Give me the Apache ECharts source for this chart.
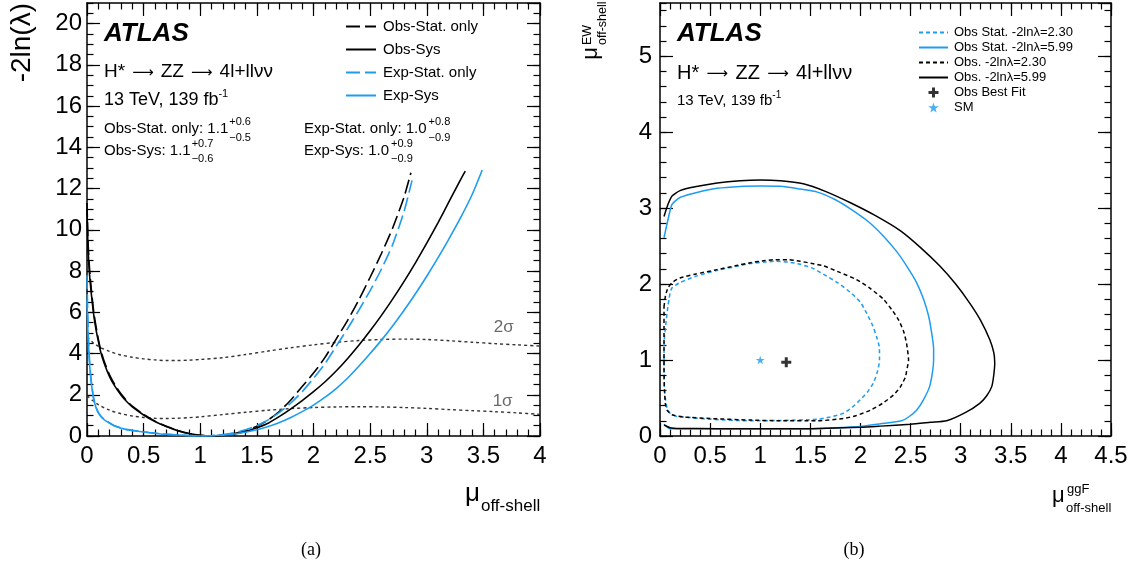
<!DOCTYPE html>
<html><head><meta charset="utf-8">
<script src="https://cdn.jsdelivr.net/npm/echarts/dist/echarts.min.js"></script>
<style>html,body{margin:0;padding:0;background:#fff}#c{width:1137px;height:568px}</style>
</head><body><div id="c"></div>
<script>
// ---------------- data: panel (a) ----------------
const obsStatX = [0,0.005,0.01,0.02,0.03,0.04,0.06,0.08,0.1,0.12,0.15,0.2,0.25,0.3,0.35,0.4,0.5,0.6,0.7,0.8,0.9,1.0,1.1,1.2,1.3,1.4,1.5,1.6,1.7,1.8,1.9,2.0,2.1,2.2,2.3,2.4,2.5,2.6,2.7,2.8,2.86];
const obsStatY = [11.3,10.2,9.3,8.3,7.6,7.0,6.0,5.3,4.7,4.2,3.65,2.95,2.45,2.05,1.72,1.45,1.05,0.72,0.47,0.27,0.12,0.03,0,0.04,0.12,0.27,0.48,0.78,1.2,1.75,2.4,3.05,3.8,4.7,5.6,6.6,7.7,8.85,10.1,11.6,12.77];
const obsSysX = [0,0.005,0.01,0.02,0.03,0.04,0.06,0.08,0.1,0.12,0.15,0.2,0.25,0.3,0.35,0.4,0.5,0.6,0.7,0.8,0.9,1.0,1.1,1.2,1.3,1.4,1.5,1.6,1.7,1.8,1.9,2.0,2.1,2.2,2.3,2.4,2.5,2.6,2.7,2.8,2.9,3.0,3.1,3.2,3.3,3.34];
const obsSysY = [11.0,9.9,9.0,8.0,7.35,6.8,5.85,5.15,4.6,4.1,3.55,2.87,2.38,1.99,1.67,1.41,1.02,0.7,0.46,0.26,0.12,0.03,0,0.03,0.1,0.22,0.4,0.62,0.95,1.32,1.72,2.15,2.62,3.15,3.75,4.4,5.1,5.85,6.65,7.5,8.4,9.35,10.35,11.4,12.45,12.85];
const expStatX = [0,0.005,0.01,0.02,0.03,0.04,0.06,0.08,0.1,0.13,0.17,0.25,0.35,0.45,0.55,0.65,0.8,0.9,1.0,1.1,1.2,1.3,1.4,1.5,1.6,1.7,1.8,1.9,2.0,2.1,2.2,2.3,2.4,2.5,2.6,2.7,2.8,2.87];
const expStatY = [7.8,6.3,5.2,3.9,3.1,2.55,1.8,1.4,1.15,0.92,0.74,0.48,0.32,0.24,0.17,0.11,0.05,0.02,0,0.02,0.07,0.16,0.3,0.5,0.78,1.15,1.6,2.15,2.8,3.5,4.35,5.2,6.1,7.05,8.1,9.3,10.9,12.4];
const expSysX = [0,0.005,0.01,0.02,0.03,0.04,0.06,0.08,0.1,0.13,0.17,0.25,0.35,0.45,0.55,0.65,0.8,0.9,1.0,1.1,1.2,1.3,1.4,1.5,1.6,1.7,1.8,1.9,2.0,2.1,2.2,2.3,2.4,2.5,2.6,2.7,2.8,2.9,3.0,3.1,3.2,3.3,3.4,3.49];
const expSysY = [6.6,5.6,4.8,3.7,3.0,2.48,1.76,1.37,1.12,0.9,0.72,0.47,0.31,0.23,0.16,0.1,0.05,0.02,0,0.01,0.04,0.1,0.18,0.3,0.46,0.66,0.9,1.18,1.5,1.87,2.3,2.8,3.38,4.0,4.65,5.35,6.1,6.9,7.75,8.65,9.6,10.6,11.7,12.9];
const sigmaX = [0,0.05,0.1,0.2,0.3,0.4,0.5,0.6,0.7,0.8,0.9,1.0,1.2,1.4,1.6,1.8,2.0,2.2,2.4,2.6,2.8,3.0,3.2,3.4,3.6,3.8,4.0];
const twoSigmaY = [4.8,4.55,4.35,4.1,3.93,3.82,3.74,3.69,3.66,3.66,3.68,3.71,3.8,3.95,4.12,4.28,4.42,4.54,4.63,4.68,4.7,4.68,4.62,4.55,4.48,4.42,4.36];
const oneSigmaY = [1.95,1.72,1.52,1.25,1.08,0.97,0.9,0.86,0.85,0.86,0.89,0.93,1.04,1.15,1.25,1.33,1.38,1.41,1.42,1.41,1.38,1.34,1.28,1.23,1.18,1.12,1.05];
const sigmaLabels = [['2σ', 3.68, 5.28], ['1σ', 3.67, 1.70]];
const legendA = ['Obs-Stat. only', 'Obs-Sys', 'Exp-Stat. only', 'Exp-Sys'];

// ---------------- data: panel (b) ----------------
const obsStat230 = [[0.04,1.0],[0.04,1.18],[0.045,1.3],[0.055,1.44],[0.065,1.55],[0.08,1.72],[0.09,1.8],[0.1,1.88],[0.12,1.95],[0.2,2.02],[0.35,2.1],[0.57,2.18],[0.75,2.23],[0.9,2.27],[1.05,2.29],[1.15,2.30],[1.28,2.29],[1.4,2.26],[1.52,2.21],[1.63,2.13],[1.77,2.02],[1.9,1.89],[2.0,1.76],[2.06,1.62],[2.12,1.46],[2.16,1.31],[2.19,1.15],[2.19,1.0],[2.17,0.85],[2.13,0.70],[2.07,0.58],[2.0,0.48],[1.92,0.38],[1.83,0.30],[1.7,0.25],[1.57,0.22],[1.2,0.205],[0.9,0.20],[0.5,0.22],[0.24,0.25],[0.17,0.255],[0.1,0.30],[0.07,0.37],[0.055,0.48],[0.045,0.6],[0.04,0.74],[0.04,1.0]];
const obsStat599 = [[0.04,2.61],[0.08,2.85],[0.12,3.05],[0.2,3.14],[0.35,3.2],[0.57,3.26],[0.8,3.285],[1.0,3.29],[1.23,3.285],[1.4,3.25],[1.57,3.21],[1.75,3.11],[1.9,2.99],[2.08,2.82],[2.23,2.63],[2.36,2.43],[2.46,2.24],[2.56,2.02],[2.63,1.8],[2.68,1.58],[2.71,1.36],[2.73,1.15],[2.73,1.0],[2.72,0.85],[2.69,0.65],[2.63,0.48],[2.56,0.34],[2.48,0.25],[2.41,0.20],[2.2,0.16],[2.0,0.125],[1.6,0.1],[1.2,0.095],[0.6,0.095],[0.2,0.095],[0.1,0.097],[0.07,0.12],[0.04,0.155]];
const obs230 = [[0.04,1.7],[0.055,1.85],[0.08,1.95],[0.12,2.02],[0.2,2.08],[0.35,2.13],[0.57,2.19],[0.75,2.24],[0.9,2.28],[1.05,2.31],[1.15,2.32],[1.28,2.32],[1.4,2.30],[1.52,2.27],[1.63,2.24],[1.8,2.15],[1.96,2.06],[2.1,1.94],[2.23,1.80],[2.32,1.65],[2.38,1.53],[2.43,1.38],[2.46,1.22],[2.48,1.0],[2.46,0.85],[2.45,0.78],[2.4,0.65],[2.33,0.54],[2.22,0.43],[2.10,0.34],[1.96,0.27],[1.83,0.23],[1.57,0.20],[1.2,0.20],[0.9,0.21],[0.5,0.23],[0.24,0.25],[0.12,0.28],[0.07,0.34],[0.055,0.41],[0.045,0.6],[0.04,0.9],[0.04,1.3],[0.04,1.7]];
const obs599 = [[0.04,2.89],[0.08,3.05],[0.12,3.16],[0.2,3.23],[0.35,3.28],[0.57,3.33],[0.8,3.36],[1.0,3.37],[1.2,3.36],[1.43,3.32],[1.65,3.22],[1.9,3.07],[2.15,2.9],[2.4,2.70],[2.6,2.48],[2.79,2.24],[2.95,2.0],[3.09,1.75],[3.2,1.52],[3.29,1.27],[3.33,1.1],[3.34,0.96],[3.33,0.8],[3.31,0.65],[3.26,0.53],[3.19,0.43],[3.05,0.31],[2.86,0.20],[2.7,0.18],[2.5,0.155],[2.2,0.13],[2.0,0.115],[1.5,0.097],[1.0,0.095],[0.57,0.097],[0.2,0.1],[0.1,0.11],[0.04,0.145]];
const bestFit = [[1.26, 0.97]];
const smPoint = [[1.0, 1.0]];
const legendB = ['Obs Stat. -2lnλ=2.30', 'Obs Stat. -2lnλ=5.99', 'Obs. -2lnλ=2.30', 'Obs. -2lnλ=5.99', 'Obs Best Fit', 'SM'];

// ---------------- style ----------------
const FONT = 'Liberation Sans';
const BLUE = '#1e9cf0';
const zip = (xs, ys) => xs.map((x, i) => [x, ys[i]]);

function axisSet(kind, gi, min, max, majorInt, minorInt, labelMargin) {
  const isX = kind === 'x';
  const sides = isX ? ['bottom', 'top'] : ['left', 'right'];
  const out = [];
  sides.forEach((pos, si) => {
    out.push({
      type: 'value', gridIndex: gi, position: pos, min, max, interval: majorInt,
      axisLine: { show: true, onZero: false, lineStyle: { color: '#000', width: 1.5 } },
      axisTick: { show: true, inside: true, length: 13, lineStyle: { color: '#000', width: 1.2 } },
      axisLabel: { show: si === 0, showMaxLabel: isX, color: '#000', fontSize: 24, fontFamily: FONT, margin: labelMargin },
      splitLine: { show: false }
    });
    out.push({
      type: 'value', gridIndex: gi, position: pos, min, max, interval: minorInt,
      axisLine: { show: false, onZero: false },
      axisTick: { show: true, inside: true, length: 6.5, lineStyle: { color: '#000', width: 1.2 } },
      axisLabel: { show: false },
      splitLine: { show: false }
    });
  });
  return out;
}

const xAxes = [].concat(
  axisSet('x', 0, 0, 4, 0.5, 0.1, 8),
  axisSet('x', 1, 0, 4.5, 0.5, 0.1, 8)
);
const yAxes = [].concat(
  axisSet('y', 0, 0, 21, 2, 0.5, 5),
  axisSet('y', 1, 0, 5.7, 1, 0.2, 8)
);

const HIDDEN_ITEM = { color: 'rgba(0,0,0,0)', borderColor: 'rgba(0,0,0,0)', borderWidth: 0, opacity: 0 };
function lineA(name, xs, ys, color, type) {
  return { name, type: 'line', xAxisIndex: 0, yAxisIndex: 0, data: zip(xs, ys), symbol: 'none',
    smooth: 0.25, lineStyle: { color, width: 1.6, type }, itemStyle: HIDDEN_ITEM, z: 3 };
}
function lineB(name, pts, color, type) {
  return { name, type: 'line', xAxisIndex: 4, yAxisIndex: 4, data: pts, symbol: 'none',
    smooth: 0.2, lineStyle: { color, width: 1.5, type }, itemStyle: HIDDEN_ITEM, z: 3 };
}

const PLUS = 'path://M3.5,0h3v3.5h3.5v3h-3.5v3.5h-3v-3.5h-3.5v-3h3.5z';
const STAR = 'path://M50,0L61,35L98,35L68,57L79,91L50,70L21,91L32,57L2,35L39,35Z';

const series = [
  { type: 'line', xAxisIndex: 0, yAxisIndex: 0, data: zip(sigmaX, twoSigmaY), symbol: 'none', smooth: 0.3,
    lineStyle: { color: '#333', width: 1.4, type: [3, 3] }, silent: true, z: 2 },
  { type: 'line', xAxisIndex: 0, yAxisIndex: 0, data: zip(sigmaX, oneSigmaY), symbol: 'none', smooth: 0.3,
    lineStyle: { color: '#333', width: 1.4, type: [3, 3] }, silent: true, z: 2 },
  { type: 'scatter', xAxisIndex: 0, yAxisIndex: 0, symbolSize: 1, itemStyle: { color: 'rgba(0,0,0,0)' },
    data: sigmaLabels.map(d => ({ value: [d[1], d[2]], label: { formatter: d[0] } })),
    label: { show: true, position: 'inside', fontSize: 17, fontFamily: FONT, color: '#444' }, silent: true },
  lineA(legendA[0], obsStatX, obsStatY, '#000', [14, 5]),
  lineA(legendA[1], obsSysX, obsSysY, '#000', 'solid'),
  lineA(legendA[2], expStatX, expStatY, BLUE, [14, 5]),
  lineA(legendA[3], expSysX, expSysY, BLUE, 'solid'),
  lineB(legendB[0], obsStat230, BLUE, [4, 3]),
  lineB(legendB[1], obsStat599, BLUE, 'solid'),
  lineB(legendB[2], obs230, '#000', [4, 3]),
  lineB(legendB[3], obs599, '#000', 'solid'),
  { name: legendB[4], type: 'scatter', xAxisIndex: 4, yAxisIndex: 4, data: bestFit, symbol: PLUS, symbolSize: 10,
    symbolKeepAspect: true, itemStyle: { color: '#000' }, z: 5 },
  { name: legendB[5], type: 'scatter', xAxisIndex: 4, yAxisIndex: 4, data: smPoint, symbol: STAR, symbolSize: 9,
    symbolKeepAspect: true, itemStyle: { color: BLUE }, z: 5 }
];

// ---------------- text helpers ----------------
const mctx = document.createElement('canvas').getContext('2d');
function fontStr(size, weight, style, fam) { return (style || 'normal') + ' ' + (weight || 'normal') + ' ' + size + 'px "' + (fam || FONT) + '"'; }
function tw(text, size, weight, style, fam) { mctx.font = fontStr(size, weight, style, fam); return mctx.measureText(text).width; }
function T(x, y, text, size, o) {
  o = o || {};
  const font = fontStr(size, o.weight, o.style, o.family);
  return { type: 'text', x, y, rotation: o.rot || 0, silent: true,
    style: { x: 0, y: 0, text, font, fill: o.color || '#000', textFill: o.color || '#000',
      align: o.align || 'left', textAlign: o.align || 'left', verticalAlign: 'middle', textVerticalAlign: 'middle' } };
}
function supsub(x, y, main, sup, sub, size, ssize, dyUp, dyDn, gap) {
  const w = tw(main, size) + (gap || 1);
  return [T(x, y, main, size), T(x + w, y - dyUp, sup, ssize), T(x + w, y + dyDn, sub, ssize)];
}
// process line "H* → ZZ → 4l+llνν" built from pieces, arrows drawn as long-arrow glyphs
function proc(x, y, size, arrowW) {
  const out = [];
  let cx = x;
  const parts = ['H*', '→', 'ZZ', '→', '4l+llνν'];
  const gap = size * 0.28;
  parts.forEach(p => {
    if (p === '→') {
      const asz = 15 * arrowW / 25;
      const w = Math.max(tw('⟶', asz, null, null, 'DejaVu Sans'), arrowW * 0.8);
      cx += gap;
      out.push(T(cx + arrowW / 2, y + 1.5, '⟶', asz, { family: 'DejaVu Sans', align: 'center' }));
      cx += arrowW + gap;
    } else {
      out.push(T(cx, y, p, size));
      cx += tw(p, size);
    }
  });
  return out;
}

const g = [];
// panel (a)
g.push(T(104, 34, 'ATLAS', 26, { weight: 'bold', style: 'italic' }));
g.push(...proc(104, 72, 19, 25));
g.push(T(104, 100, '13 TeV, 139 fb', 18));
g.push(T(104 + tw('13 TeV, 139 fb', 18), 93.5, '-1', 11));
g.push(...supsub(104, 128.5, 'Obs-Stat. only: 1.1', '+0.6', '−0.5', 15, 11, 6.5, 9, 1));
g.push(...supsub(104, 150.5, 'Obs-Sys: 1.1', '+0.7', '−0.6', 15, 11, 6.5, 8.5, 1));
g.push(...supsub(304, 128.5, 'Exp-Stat. only: 1.0', '+0.8', '−0.9', 15, 11, 7, 9, 2));
g.push(...supsub(304, 150.5, 'Exp-Sys: 1.0', '+0.9', '−0.9', 15, 11, 6.5, 8.5, 2));
// axis titles (a)
g.push(T(22, 3, '-2ln(λ)', 28, { rot: Math.PI / 2, align: 'right' }));
g.push(T(465, 494, 'μ', 26));
g.push(T(481, 506, 'off-shell', 17));
// panel (b)
g.push(T(677, 34, 'ATLAS', 26, { weight: 'bold', style: 'italic' }));
g.push(...proc(677, 73, 20, 25));
g.push(T(677, 100.5, '13 TeV, 139 fb', 15));
g.push(T(677 + tw('13 TeV, 139 fb', 15), 95, '-1', 10));
// axis titles (b)
g.push(T(1052, 496, 'μ', 22));
g.push(T(1067, 489, 'ggF', 13));
g.push(T(1066, 508, 'off-shell', 13));
g.push(T(591, 47, 'μ', 22, { rot: Math.PI / 2, align: 'right' }));
g.push(T(588, 45, 'EW', 12.5, { rot: Math.PI / 2, align: 'left' }));
g.push(T(603, 45, 'off-shell', 12.5, { rot: Math.PI / 2, align: 'left' }));
// captions
g.push(T(311, 550, '(a)', 18, { family: 'Liberation Serif', align: 'center' }));
g.push(T(854, 550, '(b)', 18, { family: 'Liberation Serif', align: 'center' }));

const hideSym = n => ({ name: n, itemStyle: { opacity: 0 } });
const chart = echarts.init(document.getElementById('c'), null, { renderer: 'canvas' });
chart.setOption({
  animation: false,
  backgroundColor: '#fff',
  grid: [
    { left: 87, top: 3, width: 453, height: 433 },
    { left: 660, top: 3, width: 451, height: 433 }
  ],
  xAxis: xAxes,
  yAxis: yAxes,
  legend: [
    { data: legendA.map(hideSym), orient: 'vertical', left: 345, top: 18, itemWidth: 30, itemHeight: 14, itemGap: 6, padding: 0,
      selectedMode: false, textStyle: { fontSize: 15, fontFamily: FONT, color: '#000', lineHeight: 17, padding: [0, 0, 0, 2] } },
    { data: legendB.slice(0, 4).map(hideSym).concat(legendB.slice(4)), orient: 'vertical', left: 918, top: 25,
      itemWidth: 29, itemHeight: 10, itemGap: 0, padding: 0,
      selectedMode: false, textStyle: { fontSize: 13, fontFamily: FONT, color: '#000', lineHeight: 15, padding: [0, 0, 0, 1] } }
  ],
  series,
  graphic: g
});
</script>
</body></html>
